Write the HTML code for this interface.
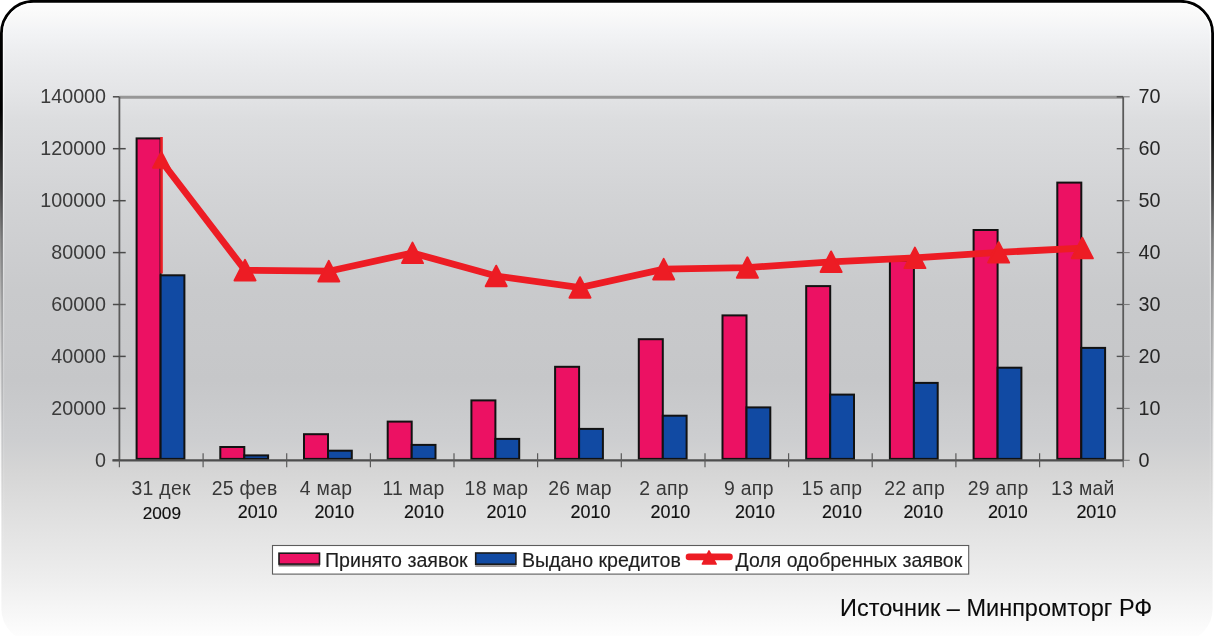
<!DOCTYPE html>
<html><head><meta charset="utf-8"><title>chart</title>
<style>
html,body{margin:0;padding:0;background:#fff;}
body{width:1214px;height:636px;overflow:hidden;position:relative;}
svg{display:block;position:absolute;left:0;top:0;will-change:transform;}
text{font-family:"Liberation Sans","DejaVu Sans",sans-serif;}
</style></head><body>
<svg width="1214" height="636" viewBox="0 0 1214 636">
<defs>
<linearGradient id="bg" x1="0" y1="0" x2="0" y2="636" gradientUnits="userSpaceOnUse">
<stop offset="0.0000" stop-color="#fdfdfd"/>
<stop offset="0.0079" stop-color="#fcfcfc"/>
<stop offset="0.0236" stop-color="#f9f9f9"/>
<stop offset="0.0472" stop-color="#f3f4f6"/>
<stop offset="0.0786" stop-color="#edeef0"/>
<stop offset="0.1101" stop-color="#e8e9eb"/>
<stop offset="0.1415" stop-color="#e4e5e7"/>
<stop offset="0.1887" stop-color="#dcdddf"/>
<stop offset="0.3145" stop-color="#d2d3d5"/>
<stop offset="0.4560" stop-color="#c9cacc"/>
<stop offset="0.5975" stop-color="#c6c7c9"/>
<stop offset="0.6918" stop-color="#cdced0"/>
<stop offset="0.7390" stop-color="#d5d5d5"/>
<stop offset="0.7862" stop-color="#dcdcdc"/>
<stop offset="0.8491" stop-color="#e5e5e5"/>
<stop offset="0.9057" stop-color="#ededed"/>
<stop offset="0.9528" stop-color="#f5f5f5"/>
<stop offset="1.0000" stop-color="#fdfdfd"/>
</linearGradient>
<linearGradient id="bd" x1="0" y1="0" x2="0" y2="636" gradientUnits="userSpaceOnUse">
<stop offset="0.0000" stop-color="#000" stop-opacity="1"/>
<stop offset="0.1730" stop-color="#000" stop-opacity="1"/>
<stop offset="0.2358" stop-color="#000" stop-opacity="0.85"/>
<stop offset="0.2987" stop-color="#000" stop-opacity="0.7"/>
<stop offset="0.3774" stop-color="#000" stop-opacity="0.45"/>
<stop offset="0.4717" stop-color="#000" stop-opacity="0.27"/>
<stop offset="0.5660" stop-color="#000" stop-opacity="0.15"/>
<stop offset="0.6761" stop-color="#000" stop-opacity="0.05"/>
<stop offset="0.8176" stop-color="#000" stop-opacity="0"/>
</linearGradient>
<linearGradient id="hl" x1="0" y1="0" x2="0" y2="636" gradientUnits="userSpaceOnUse">
<stop offset="0" stop-color="#fff" stop-opacity="0.9"/>
<stop offset="0.3" stop-color="#fff" stop-opacity="0.5"/>
<stop offset="0.6" stop-color="#fff" stop-opacity="0.15"/>
<stop offset="1" stop-color="#fff" stop-opacity="0"/>
</linearGradient>
</defs>
<rect x="0" y="0" width="1214" height="636" fill="#fff"/>
<rect x="1.4" y="1.3" width="1211.2" height="640" rx="32" ry="32" fill="url(#bg)" stroke="url(#bd)" stroke-width="2.8"/>
<rect x="3.6" y="3.5" width="1206.8" height="636" rx="30" ry="30" fill="none" stroke="url(#hl)" stroke-width="1.2"/>

<line x1="119.4" y1="97.3" x2="1123.2" y2="97.3" stroke="#979797" stroke-width="3"/>
<line x1="119.4" y1="96.8" x2="119.4" y2="460.3" stroke="#5a5a5a" stroke-width="1.8"/>
<line x1="1123.2" y1="96.8" x2="1123.2" y2="460.3" stroke="#5a5a5a" stroke-width="1.8"/>
<line x1="112.9" y1="460.3" x2="119.4" y2="460.3" stroke="#4a4a4a" stroke-width="1.5"/>
<line x1="1123.2" y1="460.3" x2="1129.7" y2="460.3" stroke="#7a7a7a" stroke-width="1.1"/>
<line x1="112.9" y1="408.4" x2="125.7" y2="408.4" stroke="#4a4a4a" stroke-width="1.5"/>
<line x1="1116.7" y1="408.4" x2="1123.2" y2="408.4" stroke="#505050" stroke-width="1.4"/>
<line x1="1123.2" y1="408.4" x2="1129.7" y2="408.4" stroke="#7a7a7a" stroke-width="1.1"/>
<line x1="112.9" y1="356.4" x2="125.7" y2="356.4" stroke="#4a4a4a" stroke-width="1.5"/>
<line x1="1116.7" y1="356.4" x2="1123.2" y2="356.4" stroke="#505050" stroke-width="1.4"/>
<line x1="1123.2" y1="356.4" x2="1129.7" y2="356.4" stroke="#7a7a7a" stroke-width="1.1"/>
<line x1="112.9" y1="304.5" x2="125.7" y2="304.5" stroke="#4a4a4a" stroke-width="1.5"/>
<line x1="1116.7" y1="304.5" x2="1123.2" y2="304.5" stroke="#505050" stroke-width="1.4"/>
<line x1="1123.2" y1="304.5" x2="1129.7" y2="304.5" stroke="#7a7a7a" stroke-width="1.1"/>
<line x1="112.9" y1="252.6" x2="125.7" y2="252.6" stroke="#4a4a4a" stroke-width="1.5"/>
<line x1="1116.7" y1="252.6" x2="1123.2" y2="252.6" stroke="#505050" stroke-width="1.4"/>
<line x1="1123.2" y1="252.6" x2="1129.7" y2="252.6" stroke="#7a7a7a" stroke-width="1.1"/>
<line x1="112.9" y1="200.7" x2="125.7" y2="200.7" stroke="#4a4a4a" stroke-width="1.5"/>
<line x1="1116.7" y1="200.7" x2="1123.2" y2="200.7" stroke="#505050" stroke-width="1.4"/>
<line x1="1123.2" y1="200.7" x2="1129.7" y2="200.7" stroke="#7a7a7a" stroke-width="1.1"/>
<line x1="112.9" y1="148.7" x2="125.7" y2="148.7" stroke="#4a4a4a" stroke-width="1.5"/>
<line x1="1116.7" y1="148.7" x2="1123.2" y2="148.7" stroke="#505050" stroke-width="1.4"/>
<line x1="1123.2" y1="148.7" x2="1129.7" y2="148.7" stroke="#7a7a7a" stroke-width="1.1"/>
<line x1="112.9" y1="96.8" x2="119.4" y2="96.8" stroke="#4a4a4a" stroke-width="1.5"/>
<line x1="1116.7" y1="96.8" x2="1123.2" y2="96.8" stroke="#505050" stroke-width="1.4"/>
<line x1="1123.2" y1="96.8" x2="1129.7" y2="96.8" stroke="#7a7a7a" stroke-width="1.1"/>
<text x="106" y="466.9" text-anchor="end" font-size="19.7" fill="#3a3a3a">0</text>
<text x="1138.5" y="466.9" font-size="19.8" fill="#262626">0</text>
<text x="106" y="415.0" text-anchor="end" font-size="19.7" fill="#3a3a3a">20000</text>
<text x="1138.5" y="415.0" font-size="19.8" fill="#262626">10</text>
<text x="106" y="363.0" text-anchor="end" font-size="19.7" fill="#3a3a3a">40000</text>
<text x="1138.5" y="363.0" font-size="19.8" fill="#262626">20</text>
<text x="106" y="311.1" text-anchor="end" font-size="19.7" fill="#3a3a3a">60000</text>
<text x="1138.5" y="311.1" font-size="19.8" fill="#262626">30</text>
<text x="106" y="259.2" text-anchor="end" font-size="19.7" fill="#3a3a3a">80000</text>
<text x="1138.5" y="259.2" font-size="19.8" fill="#262626">40</text>
<text x="106" y="207.3" text-anchor="end" font-size="19.7" fill="#3a3a3a">100000</text>
<text x="1138.5" y="207.3" font-size="19.8" fill="#262626">50</text>
<text x="106" y="155.3" text-anchor="end" font-size="19.7" fill="#3a3a3a">120000</text>
<text x="1138.5" y="155.3" font-size="19.8" fill="#262626">60</text>
<text x="106" y="103.4" text-anchor="end" font-size="19.7" fill="#3a3a3a">140000</text>
<text x="1138.5" y="103.4" font-size="19.8" fill="#262626">70</text>
<rect x="136.6" y="138.4" width="24" height="320.5" fill="#ec1163" stroke="#121212" stroke-width="2"/>
<rect x="160.6" y="275.3" width="23.8" height="183.6" fill="#114aa3" stroke="#121212" stroke-width="2"/>
<rect x="220.3" y="447.0" width="24" height="11.9" fill="#ec1163" stroke="#121212" stroke-width="2"/>
<rect x="244.3" y="455.4" width="23.8" height="3.5" fill="#114aa3" stroke="#121212" stroke-width="2"/>
<rect x="304.0" y="434.2" width="24" height="24.7" fill="#ec1163" stroke="#121212" stroke-width="2"/>
<rect x="328.0" y="450.7" width="23.8" height="8.2" fill="#114aa3" stroke="#121212" stroke-width="2"/>
<rect x="387.7" y="421.6" width="24" height="37.3" fill="#ec1163" stroke="#121212" stroke-width="2"/>
<rect x="411.7" y="444.9" width="23.8" height="14.0" fill="#114aa3" stroke="#121212" stroke-width="2"/>
<rect x="471.4" y="400.4" width="24" height="58.5" fill="#ec1163" stroke="#121212" stroke-width="2"/>
<rect x="495.4" y="438.9" width="23.8" height="20.0" fill="#114aa3" stroke="#121212" stroke-width="2"/>
<rect x="555.1" y="366.8" width="24" height="92.1" fill="#ec1163" stroke="#121212" stroke-width="2"/>
<rect x="579.1" y="428.9" width="23.8" height="30.0" fill="#114aa3" stroke="#121212" stroke-width="2"/>
<rect x="638.8" y="339.2" width="24" height="119.7" fill="#ec1163" stroke="#121212" stroke-width="2"/>
<rect x="662.8" y="415.7" width="23.8" height="43.2" fill="#114aa3" stroke="#121212" stroke-width="2"/>
<rect x="722.5" y="315.4" width="24" height="143.5" fill="#ec1163" stroke="#121212" stroke-width="2"/>
<rect x="746.5" y="407.4" width="23.8" height="51.5" fill="#114aa3" stroke="#121212" stroke-width="2"/>
<rect x="806.2" y="286.1" width="24" height="172.8" fill="#ec1163" stroke="#121212" stroke-width="2"/>
<rect x="830.2" y="394.6" width="23.8" height="64.3" fill="#114aa3" stroke="#121212" stroke-width="2"/>
<rect x="889.9" y="260.5" width="24" height="198.4" fill="#ec1163" stroke="#121212" stroke-width="2"/>
<rect x="913.9" y="382.9" width="23.8" height="76.0" fill="#114aa3" stroke="#121212" stroke-width="2"/>
<rect x="973.6" y="230.0" width="24" height="228.9" fill="#ec1163" stroke="#121212" stroke-width="2"/>
<rect x="997.6" y="367.7" width="23.8" height="91.2" fill="#114aa3" stroke="#121212" stroke-width="2"/>
<rect x="1057.3" y="182.6" width="24" height="276.3" fill="#ec1163" stroke="#121212" stroke-width="2"/>
<rect x="1081.3" y="347.9" width="23.8" height="111.0" fill="#114aa3" stroke="#121212" stroke-width="2"/>
<line x1="112.4" y1="460.3" x2="1123.2" y2="460.3" stroke="#4d4d4d" stroke-width="2.3"/>
<line x1="119.4" y1="460.3" x2="119.4" y2="467.3" stroke="#5a5a5a" stroke-width="1.2"/>
<line x1="203.1" y1="453.3" x2="203.1" y2="467.3" stroke="#5a5a5a" stroke-width="1.2"/>
<line x1="286.7" y1="453.3" x2="286.7" y2="467.3" stroke="#5a5a5a" stroke-width="1.2"/>
<line x1="370.4" y1="453.3" x2="370.4" y2="467.3" stroke="#5a5a5a" stroke-width="1.2"/>
<line x1="454.0" y1="453.3" x2="454.0" y2="467.3" stroke="#5a5a5a" stroke-width="1.2"/>
<line x1="537.6" y1="453.3" x2="537.6" y2="467.3" stroke="#5a5a5a" stroke-width="1.2"/>
<line x1="621.3" y1="453.3" x2="621.3" y2="467.3" stroke="#5a5a5a" stroke-width="1.2"/>
<line x1="705.0" y1="453.3" x2="705.0" y2="467.3" stroke="#5a5a5a" stroke-width="1.2"/>
<line x1="788.6" y1="453.3" x2="788.6" y2="467.3" stroke="#5a5a5a" stroke-width="1.2"/>
<line x1="872.2" y1="453.3" x2="872.2" y2="467.3" stroke="#5a5a5a" stroke-width="1.2"/>
<line x1="955.9" y1="453.3" x2="955.9" y2="467.3" stroke="#5a5a5a" stroke-width="1.2"/>
<line x1="1039.6" y1="453.3" x2="1039.6" y2="467.3" stroke="#5a5a5a" stroke-width="1.2"/>
<line x1="1123.2" y1="460.3" x2="1123.2" y2="467.3" stroke="#5a5a5a" stroke-width="1.2"/>
<rect x="160.2" y="137" width="2.6" height="136.5" fill="#ed1c24"/>
<polyline points="161.3,161.0 245.0,270.2 328.8,271.2 412.5,252.9 496.2,276.0 580.0,287.5 663.7,269.2 747.4,267.6 831.1,261.8 914.9,257.9 998.6,252.4 1082.3,248.1" fill="none" stroke="#ed1c24" stroke-width="6.8" stroke-linejoin="miter"/>
<polygon points="153.1,167.8 161.3,152 169.5,167.8" fill="#ed1c24" stroke="#ed1c24" stroke-width="2" stroke-linejoin="round"/>
<polygon points="234.5,280.4 245.0,259.9 255.5,280.4" fill="#ed1c24" stroke="#ed1c24" stroke-width="2" stroke-linejoin="round"/>
<polygon points="318.3,281.4 328.8,260.9 339.3,281.4" fill="#ed1c24" stroke="#ed1c24" stroke-width="2" stroke-linejoin="round"/>
<polygon points="402.0,263.1 412.5,242.6 423.0,263.1" fill="#ed1c24" stroke="#ed1c24" stroke-width="2" stroke-linejoin="round"/>
<polygon points="485.7,286.2 496.2,265.7 506.7,286.2" fill="#ed1c24" stroke="#ed1c24" stroke-width="2" stroke-linejoin="round"/>
<polygon points="569.5,297.7 580.0,277.2 590.5,297.7" fill="#ed1c24" stroke="#ed1c24" stroke-width="2" stroke-linejoin="round"/>
<polygon points="653.2,279.4 663.7,258.9 674.2,279.4" fill="#ed1c24" stroke="#ed1c24" stroke-width="2" stroke-linejoin="round"/>
<polygon points="736.9,277.8 747.4,257.3 757.9,277.8" fill="#ed1c24" stroke="#ed1c24" stroke-width="2" stroke-linejoin="round"/>
<polygon points="820.6,272.0 831.1,251.5 841.6,272.0" fill="#ed1c24" stroke="#ed1c24" stroke-width="2" stroke-linejoin="round"/>
<polygon points="904.4,268.1 914.9,247.6 925.4,268.1" fill="#ed1c24" stroke="#ed1c24" stroke-width="2" stroke-linejoin="round"/>
<polygon points="988.1,262.6 998.6,242.1 1009.1,262.6" fill="#ed1c24" stroke="#ed1c24" stroke-width="2" stroke-linejoin="round"/>
<polygon points="1071.8,258.3 1082.3,237.8 1092.8,258.3" fill="#ed1c24" stroke="#ed1c24" stroke-width="2" stroke-linejoin="round"/>
<text x="161.2" y="495.2" text-anchor="middle" font-size="19.4" letter-spacing="0.3" fill="#383838">31 дек</text>
<text x="181" y="519.4" text-anchor="end" font-size="17.2" fill="#111" stroke="#111" stroke-width="0.15">2009</text>
<text x="244.6" y="495.2" text-anchor="middle" font-size="19.4" letter-spacing="0.3" fill="#383838">25 фев</text>
<text x="277.5" y="518.1" text-anchor="end" font-size="17.9" fill="#111" stroke="#111" stroke-width="0.15">2010</text>
<text x="326.1" y="495.2" text-anchor="middle" font-size="19.4" letter-spacing="0.3" fill="#383838">4 мар</text>
<text x="354.2" y="518.1" text-anchor="end" font-size="17.9" fill="#111" stroke="#111" stroke-width="0.15">2010</text>
<text x="413.5" y="495.2" text-anchor="middle" font-size="19.4" letter-spacing="0.3" fill="#383838">11 мар</text>
<text x="443.9" y="518.1" text-anchor="end" font-size="17.9" fill="#111" stroke="#111" stroke-width="0.15">2010</text>
<text x="496.4" y="495.2" text-anchor="middle" font-size="19.4" letter-spacing="0.3" fill="#383838">18 мар</text>
<text x="526.4" y="518.1" text-anchor="end" font-size="17.9" fill="#111" stroke="#111" stroke-width="0.15">2010</text>
<text x="580.1" y="495.2" text-anchor="middle" font-size="19.4" letter-spacing="0.3" fill="#383838">26 мар</text>
<text x="610.4" y="518.1" text-anchor="end" font-size="17.9" fill="#111" stroke="#111" stroke-width="0.15">2010</text>
<text x="664.0" y="495.2" text-anchor="middle" font-size="19.4" letter-spacing="0.3" fill="#383838">2 апр</text>
<text x="690.3" y="518.1" text-anchor="end" font-size="17.9" fill="#111" stroke="#111" stroke-width="0.15">2010</text>
<text x="748.9" y="495.2" text-anchor="middle" font-size="19.4" letter-spacing="0.3" fill="#383838">9 апр</text>
<text x="774.9" y="518.1" text-anchor="end" font-size="17.9" fill="#111" stroke="#111" stroke-width="0.15">2010</text>
<text x="832.0" y="495.2" text-anchor="middle" font-size="19.4" letter-spacing="0.3" fill="#383838">15 апр</text>
<text x="861.9" y="518.1" text-anchor="end" font-size="17.9" fill="#111" stroke="#111" stroke-width="0.15">2010</text>
<text x="914.6" y="495.2" text-anchor="middle" font-size="19.4" letter-spacing="0.3" fill="#383838">22 апр</text>
<text x="943.2" y="518.1" text-anchor="end" font-size="17.9" fill="#111" stroke="#111" stroke-width="0.15">2010</text>
<text x="998.1" y="495.2" text-anchor="middle" font-size="19.4" letter-spacing="0.3" fill="#383838">29 апр</text>
<text x="1027.7" y="518.1" text-anchor="end" font-size="17.9" fill="#111" stroke="#111" stroke-width="0.15">2010</text>
<text x="1082.9" y="495.2" text-anchor="middle" font-size="19.4" letter-spacing="0.3" fill="#383838">13 май</text>
<text x="1116.2" y="518.1" text-anchor="end" font-size="17.9" fill="#111" stroke="#111" stroke-width="0.15">2010</text>
<rect x="272.5" y="545.5" width="696.2" height="28.6" fill="#fff" stroke="#5c5c5c" stroke-width="1.1"/>
<line x1="278.6" y1="565.8" x2="320" y2="565.8" stroke="#7f7878" stroke-width="1.4"/>
<rect x="279" y="553.2" width="40.5" height="10.9" fill="#ec1163" stroke="#1a1a1a" stroke-width="1.6"/>
<text x="325" y="566.8" font-size="19.6" fill="#1e1e1e" stroke="#1e1e1e" stroke-width="0.15">Принято заявок</text>
<line x1="475.2" y1="566" x2="516.4" y2="566" stroke="#7f7878" stroke-width="1.4"/>
<rect x="475.7" y="553" width="40.2" height="11.2" fill="#114aa3" stroke="#1a1a1a" stroke-width="1.6"/>
<text x="521.9" y="566.8" font-size="19.6" fill="#1e1e1e" stroke="#1e1e1e" stroke-width="0.15">Выдано кредитов</text>
<line x1="689" y1="556.9" x2="729.5" y2="556.9" stroke="#ed1c24" stroke-width="6.6" stroke-linecap="round"/>
<polygon points="702.3,564 709,550.8 716.2,564" fill="#ed1c24" stroke="#ed1c24" stroke-width="1.5" stroke-linejoin="round"/>
<text x="735.6" y="566.8" font-size="19.45" fill="#1e1e1e" stroke="#1e1e1e" stroke-width="0.15">Доля одобренных заявок</text>
<text x="840" y="616" font-size="23.5" fill="#0a0a0a" stroke="#0a0a0a" stroke-width="0.1">Источник – Минпромторг РФ</text>
</svg>
</body></html>
